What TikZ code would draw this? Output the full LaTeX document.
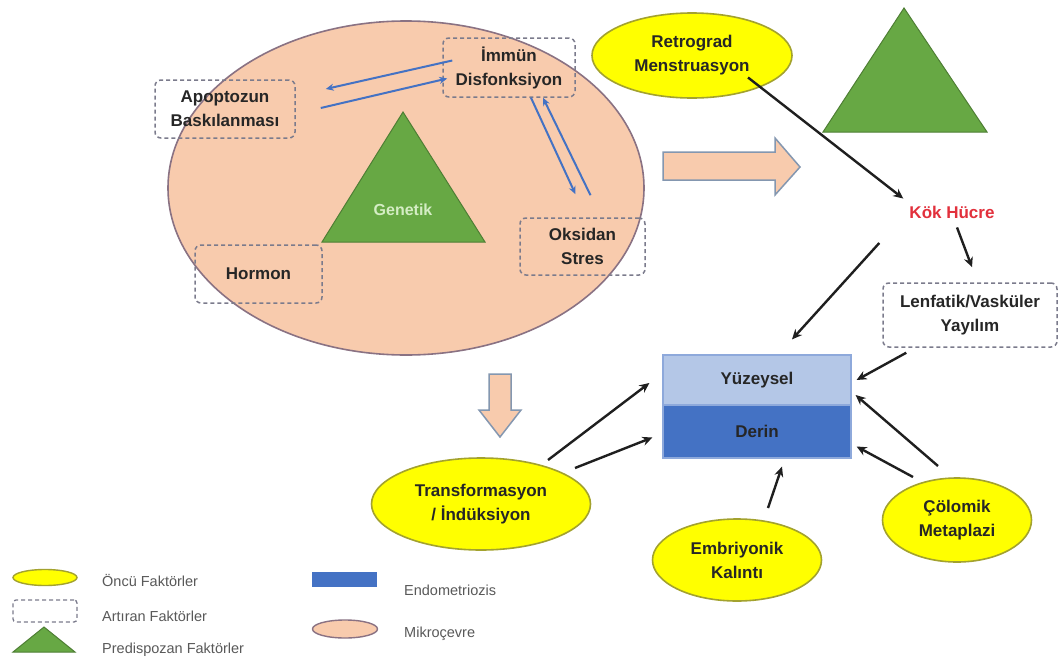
\documentclass[tikz,border=0pt]{standalone}
\usepackage{fontspec}
\setmainfont{Liberation Sans}
\usetikzlibrary{shapes.geometric,calc,arrows.meta}
\definecolor{peach}{HTML}{F8CBAD}
\definecolor{peachline}{HTML}{8A7283}
\definecolor{yel}{HTML}{FFFF00}
\definecolor{yelline}{HTML}{A3A22E}
\definecolor{grn}{HTML}{67A844}
\definecolor{grnline}{HTML}{4E7E34}
\definecolor{blu}{HTML}{4472C4}
\definecolor{lblu}{HTML}{B4C7E7}
\definecolor{rectline}{HTML}{8EA9DB}
\definecolor{dashc}{HTML}{7B7B8C}
\definecolor{arrline}{HTML}{8497B0}
\definecolor{txt}{HTML}{262626}
\definecolor{legtxt}{HTML}{595959}
\definecolor{kokred}{HTML}{E2303C}
\definecolor{gentxt}{HTML}{D4EDC4}
\tikzset{
  lbl/.style={font=\fontsize{17}{24}\selectfont\bfseries, text=txt, align=center},
  dbox/.style={lbl, draw=dashc, line width=1.5pt, dash pattern=on 4pt off 3pt, rounded corners=6pt, inner sep=0pt},
  yell/.style={lbl, ellipse, fill=yel, draw=yelline, line width=1.6pt, inner sep=0pt},
  barr/.style={draw=black!88, line width=2.4pt, -{Stealth[length=10pt,width=9pt]}},
  blarr/.style={draw=blu, line width=2pt, -{Stealth[length=8pt,width=7pt]}},
  bigarr/.style={fill=peach, draw=arrline, line width=1.5pt},
  legt/.style={font=\fontsize{14.5}{17}\selectfont, text=legtxt, anchor=west, inner sep=0pt},
}
\begin{document}
\begin{tikzpicture}[x=1pt,y=-1pt]
\useasboundingbox[fill=white] (0,0) rectangle (1061,664);

% microenvironment
\node[ellipse, fill=peach, draw=peachline, line width=1.6pt, minimum width=476pt, minimum height=334pt, inner sep=0pt] (mikro) at (406,188) {};

% genetik triangle
\fill[grn, draw=grnline, line width=1pt] (403,112) -- (485,242) -- (322,242) -- cycle;
\node[font=\fontsize{16}{20}\selectfont\bfseries, text=gentxt] (gen) at (403,210) {Genetik};

% dashed boxes
\node[dbox, minimum width=140pt, minimum height=58pt] (apo) at (225,109) {Apoptozun\\Baskılanması};
\node[dbox, minimum width=132pt, minimum height=59pt] (imm) at (509,67.5) {İmmün\\Disfonksiyon};
\node[dbox, minimum width=125pt, minimum height=57pt] (oks) at (582.5,246.5) {Oksidan\\Stres};
\node[dbox, minimum width=127pt, minimum height=58pt] (hor) at (258.5,274) {Hormon};
\node[dbox, minimum width=174pt, minimum height=64pt] (lenf) at (970,315) {Lenfatik/Vasküler\\Yayılım};

% blue arrows
\draw[blarr] ($(imm.west)+(10,-7)$) -- ($(apo.east)+(30,-20)$);
\draw[blarr] ($(apo.east)+(25,-1)$) -- ($(imm.west)+(5,11)$);
\draw[blarr] ($(imm.south)+(22,0)$) -- ($(oks.north)+(-7,-23)$);
\draw[blarr] ($(oks.north)+(8,-22)$) -- ($(imm.south)+(34,0)$);

% big arrows
\draw[bigarr] (663,152) -- (775,152) -- (775,138) -- (800,167) -- (775,195) -- (775,180) -- (663,180) -- cycle;
\draw[bigarr] (489,374) -- (511,374) -- (511,410) -- (521,410) -- (500,437) -- (479,410) -- (489,410) -- cycle;

% green triangle top right
\fill[grn, draw=grnline, line width=1pt] (904,8) -- (987,132) -- (823,132) -- cycle;

% yellow ellipses
\node[yell, minimum width=200pt, minimum height=85pt] (retro) at (692,55.5) {Retrograd\\Menstruasyon};
\node[yell, minimum width=219pt, minimum height=92pt] (trans) at (481,504) {Transformasyon\\/ İndüksiyon};
\node[yell, minimum width=169pt, minimum height=82pt] (emb) at (737,560) {Embriyonik\\Kalıntı};
\node[yell, minimum width=149pt, minimum height=84pt] (colo) at (957,520) {Çölomik\\Metaplazi};

% endometriosis
\node[lbl, fill=lblu, draw=rectline, line width=1.2pt, minimum width=188pt, minimum height=50pt, inner sep=0pt] (yuz) at (757,380) {Yüzeysel};
\node[lbl, fill=blu, draw=rectline, line width=1.2pt, minimum width=188pt, minimum height=53pt, inner sep=0pt] (derin) at (757,431.5) {Derin};

% stem cell
\node[lbl, text=kokred, inner sep=4pt] (kok) at (952,212) {Kök Hücre};

% black arrows
\draw[barr] ($(retro.center)+(56,22)$) -- ($(kok.north west)+(-2,-3)$);
\draw[barr] ($(kok.south)+(5,5)$) -- ($(lenf.north)+(2,-15)$);
\draw[barr] ($(kok.west)+(-26,31)$) -- ($(yuz.north)+(35,-15)$);
\draw[barr] ($(lenf.south west)+(24,5)$) -- ($(yuz.east)+(5,0)$);
\draw[barr] ($(colo.center)+(-19,-54)$) -- ($(yuz.east)+(4,15)$);
\draw[barr] ($(colo.center)+(-44,-43)$) -- ($(derin.east)+(5,15)$);
\draw[barr] ($(emb.center)+(31,-52)$) -- ($(derin.south)+(25,8)$);
\draw[barr] ($(trans.center)+(67,-44)$) -- ($(yuz.west)+(-13,3)$);
\draw[barr] ($(trans.center)+(94,-36)$) -- ($(derin.west)+(-10,6)$);

% legend
\node[ellipse, fill=yel, draw=yelline, line width=1.4pt, minimum width=64pt, minimum height=16pt, inner sep=0pt] (l1) at (45,577.5) {};
\node[legt] (l1t) at (102,580) {Öncü Faktörler};
\node[draw=dashc, line width=1.3pt, dash pattern=on 4pt off 3pt, rounded corners=3pt, minimum width=64pt, minimum height=22pt, inner sep=0pt] (l2) at (45,611) {};
\node[legt] (l2t) at (102,616) {Artıran Faktörler};
\fill[grn, draw=grnline, line width=1pt] (44,627) -- (75,652) -- (13,652) -- cycle;
\node[legt] (l3t) at (102,650) {Predispozan Faktörler};
\node[fill=blu, minimum width=65pt, minimum height=15pt, inner sep=0pt] (l4) at (344.5,579.5) {};
\node[legt] (l4t) at (404,590) {Endometriozis};
\node[ellipse, fill=peach, draw=peachline, line width=1.4pt, minimum width=65pt, minimum height=18pt, inner sep=0pt] (l5) at (345,629) {};
\node[legt] (l5t) at (404,634) {Mikroçevre};
\end{tikzpicture}
\end{document}
